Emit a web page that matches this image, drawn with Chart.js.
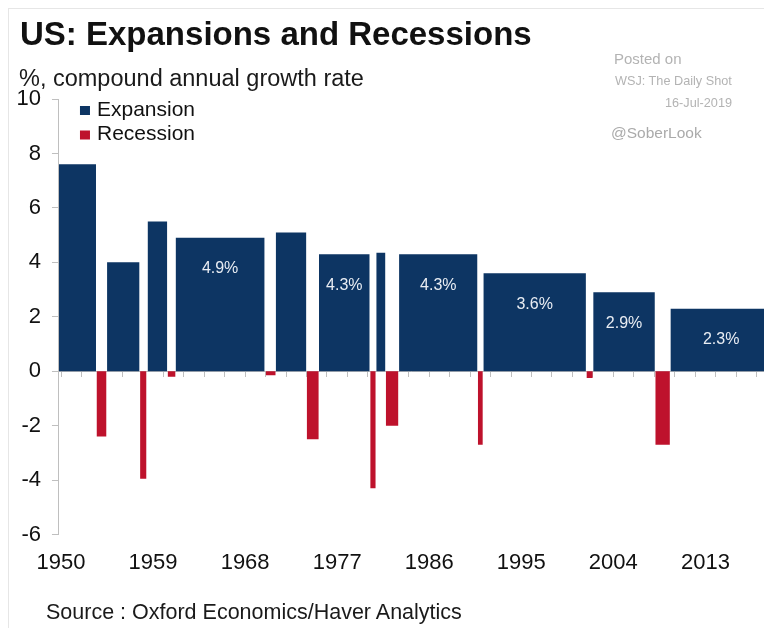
<!DOCTYPE html>
<html>
<head>
<meta charset="utf-8">
<script src="https://cdn.jsdelivr.net/npm/chart.js@4"></script>
<style>
  body { margin: 0; background: #fff; }
  #wrap { position: relative; width: 764px; height: 628px; overflow: hidden; font-family: "Liberation Sans", Arial, sans-serif; }
  #frame { position: absolute; left: 8px; top: 8px; width: 820px; height: 700px; border: 1px solid #e6e6e6; }
  #chart { position: absolute; left: 0; top: 0; }
  .txt { position: absolute; white-space: nowrap; line-height: 1; }
  #title { left: 20px; top: 17px; font-size: 33px; font-weight: bold; color: #111; }
  #sub { left: 19px; top: 67px; font-size: 23.5px; color: #1a1a1a; }
  #posted { left: 614px; top: 51px; font-size: 15px; color: #b3b3b3; }
  #wsj { left: 615px; top: 75px; font-size: 12.7px; color: #b3b3b3; }
  #date { right: 32px; top: 97px; font-size: 12.7px; color: #b3b3b3; }
  #sober { left: 611px; top: 125px; font-size: 15.5px; color: #aaaaaa; }
  #source { left: 46px; top: 602px; font-size: 21.5px; color: #1a1a1a; }
</style>
</head>
<body>
<div id="wrap">
  <div id="frame"></div>
  <canvas id="chart" width="764" height="628"></canvas>
  <div class="txt" id="title">US: Expansions and Recessions</div>
  <div class="txt" id="sub">%, compound annual growth rate</div>
  <div class="txt" id="posted">Posted on</div>
  <div class="txt" id="wsj">WSJ: The Daily Shot</div>
  <div class="txt" id="date">16-Jul-2019</div>
  <div class="txt" id="sober">@SoberLook</div>
  <div class="txt" id="source">Source : Oxford Economics/Haver Analytics</div>
</div>
<script>
// expansions: start / end (decimal years) and compound annual growth, %
const expStart = [1949.8, 1954.5, 1958.46, 1961.2, 1970.99, 1975.22, 1980.82, 1983.05, 1991.29, 2002.03, 2009.58];
const expEnd = [1953.42, 1957.68, 1960.39, 1969.91, 1973.99, 1980.18, 1981.72, 1990.72, 2001.32, 2008.06, 2019.5];
const expGrowth = [7.6, 4.0, 5.5, 4.9, 5.1, 4.3, 4.35, 4.3, 3.6, 2.9, 2.3];
const expLabels = ["", "", "", "4.9%", "", "4.3%", "", "4.3%", "3.6%", "2.9%", "2.3%"];

// recessions
const recStart = [1953.47, 1957.73, 1960.42, 1970.01, 1974.02, 1980.23, 1981.75, 1990.75, 2001.37, 2008.1];
const recEnd = [1954.45, 1958.36, 1961.2, 1970.99, 1975.2, 1980.77, 1982.99, 1991.24, 2001.99, 2009.53];
const recGrowth = [-2.4, -3.95, -0.2, -0.15, -2.5, -4.3, -2.0, -2.7, -0.25, -2.7];

const yearLabels = [1950, 1959, 1968, 1977, 1986, 1995, 2004, 2013];
const xMin = 1949.8;
const xMax = 2018.73;

const navy = "#0d3563";
const red = "#be122c";
const axisGrey = "#bfbfbf";

Chart.defaults.font.family = '"Liberation Sans", Arial, sans-serif';
Chart.defaults.color = "#111";

// each period becomes a flat segment filled down to zero, broken by a gap
function blocks(starts, ends, values) {
    const pts = [];
    values.forEach((v, i) => {
        pts.push({ x: starts[i], y: v });
        pts.push({ x: ends[i], y: v });
        pts.push({ x: ends[i], y: null });
    });
    return pts;
}

const barLabels = {
    id: "barLabels",
    afterDatasetsDraw(chart) {
        const { ctx, scales } = chart;
        ctx.save();
        ctx.fillStyle = "#e9edf3";
        ctx.font = '16px "Liberation Sans", Arial, sans-serif';
        ctx.textAlign = "center";
        ctx.textBaseline = "middle";
        expLabels.forEach((txt, i) => {
            if (!txt) return;
            const x = scales.x.getPixelForValue((expStart[i] + expEnd[i]) / 2);
            const y = scales.y.getPixelForValue(expGrowth[i]) + 31;
            ctx.fillText(txt, x, y);
        });
        ctx.restore();
    }
};

const boxLegend = {
    id: "boxLegend",
    afterDraw(chart) {
        const { ctx, chartArea } = chart;
        ctx.save();
        ctx.font = '21px "Liberation Sans", Arial, sans-serif';
        ctx.textBaseline = "middle";
        chart.data.datasets.forEach((ds, i) => {
            const y = chartArea.top + 11 + i * 24.5;
            ctx.fillStyle = ds.backgroundColor;
            ctx.fillRect(chartArea.left + 21, y - 4, 10, 9);
            ctx.fillStyle = "#111";
            ctx.fillText(ds.label, chartArea.left + 38, y);
        });
        ctx.restore();
    }
};

const ctx = document.getElementById("chart").getContext("2d");
const chart = new Chart(ctx, {
    type: "line",
    data: {
        datasets: [
            {
                label: "Expansion",
                data: blocks(expStart, expEnd, expGrowth),
                backgroundColor: navy,
                borderColor: "transparent",
                borderWidth: 0,
                pointRadius: 0,
                fill: "origin",
                spanGaps: false
            },
            {
                label: "Recession",
                data: blocks(recStart, recEnd, recGrowth),
                backgroundColor: red,
                borderColor: "transparent",
                borderWidth: 0,
                pointRadius: 0,
                fill: "origin",
                spanGaps: false
            }
        ]
    },
    options: {
        responsive: false,
        animation: false,
        events: [],
        layout: { padding: { top: 99, left: 5.5, right: 0, bottom: 37 } },
        plugins: {
            legend: { display: false },
            tooltip: { enabled: false }
        },
        scales: {
            x: {
                type: "linear",
                position: { y: 0 },
                min: xMin,
                max: xMax,
                afterBuildTicks: (axis) => {
                    const t = [];
                    for (let v = 1950; v <= 2018; v += 2) t.push({ value: v });
                    axis.ticks = t;
                },
                ticks: { display: false },
                grid: { drawOnChartArea: false, color: axisGrey, tickLength: 5 },
                border: { color: axisGrey }
            },
            xl: {
                type: "linear",
                axis: "x",
                position: "bottom",
                min: xMin,
                max: xMax,
                afterBuildTicks: (axis) => {
                    axis.ticks = yearLabels.map((v) => ({ value: v }));
                },
                ticks: {
                    padding: 15,
                    color: "#111",
                    font: { size: 22 },
                    maxRotation: 0,
                    callback: (v) => String(v)
                },
                grid: { display: false, drawTicks: false },
                border: { display: false }
            },
            y: {
                min: -6,
                max: 10,
                ticks: { stepSize: 2, padding: 11, color: "#111", font: { size: 22 } },
                grid: { drawOnChartArea: false, color: axisGrey, tickLength: 7 },
                border: { color: axisGrey }
            }
        }
    },
    plugins: [barLabels, boxLegend]
});
</script>
</body>
</html>
